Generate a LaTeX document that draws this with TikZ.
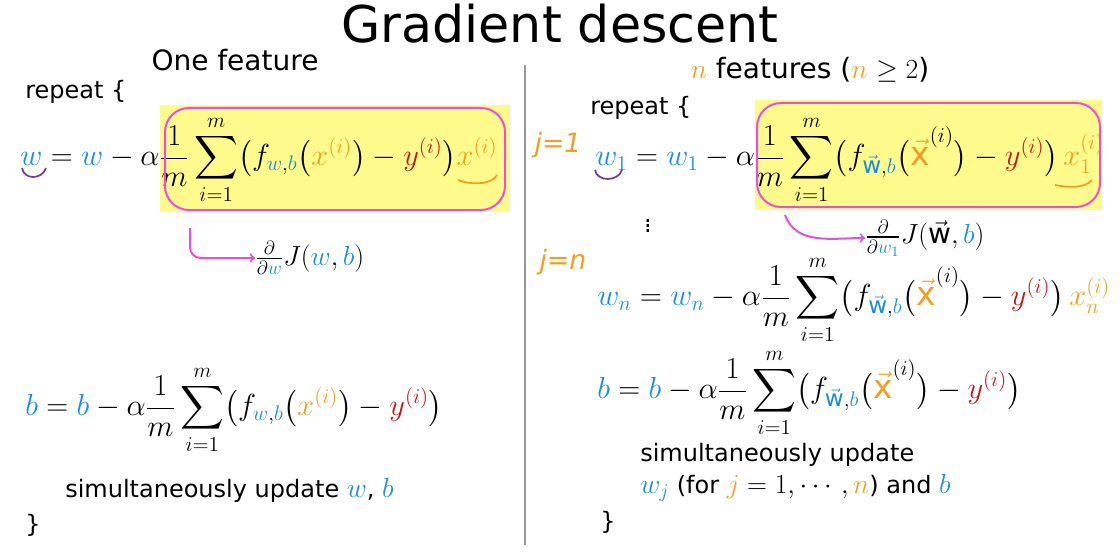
\documentclass[tikz,border=0pt]{standalone}
\usepackage{amsmath}
\usepackage{graphicx}
\usepackage{fontspec}
\setmainfont{DejaVu Sans}
\definecolor{wb}{RGB}{25,140,230}
\definecolor{xo}{RGB}{240,160,30}
\definecolor{yr}{RGB}{190,25,25}
\definecolor{hl}{RGB}{255,250,140}
\definecolor{pk}{RGB}{230,80,220}
\definecolor{ln}{RGB}{150,150,150}
\definecolor{ul}{RGB}{110,60,150}
\newcommand{\Bw}[1]{\textcolor{wb}{#1}}
\newcommand{\Ox}[1]{\textcolor{xo}{#1}}
\newcommand{\Ry}[1]{\textcolor{yr}{#1}}
\newcommand{\vx}{\Ox{\vec{\mathrm{x}}}}
\newcommand{\vw}{\vec{\mathrm{w}}}
\newcommand{\M}[1]{{\fontsize{21}{24}\selectfont$#1$}}
\newcommand{\SE}[1]{\scalebox{1.1}{$\displaystyle #1$}}
\begin{document}
\begin{tikzpicture}[x=0.75pt,y=-0.75pt,
  txt/.style={inner sep=0pt,font=\fontsize{18}{21}\selectfont},
  eq/.style={inner sep=0pt,anchor=west,font=\fontsize{22.5}{26}\selectfont},
  hand/.style={pk,line width=1.5pt},
  handj/.style={inner sep=0pt,text=xo,font=\fontsize{20}{24}\selectfont\itshape}]
\useasboundingbox (0,0) rectangle (1120,556);
\fill[hl] (160,105) rectangle (510,212);
\fill[hl] (755,100) rectangle (1102,210);
\node[txt,font=\fontsize{38}{42}\selectfont] (title) at (560,24) {Gradient descent};
\node[txt,font=\fontsize{21}{24}\selectfont] (one) at (235,60) {One feature};
\node[txt,anchor=west] (rep1) at (25,92) {repeat \{};
\node[eq] (eqw) at (20,160) {\SE{\Bw{w}=\Bw{w}-\alpha\frac{1}{m}\sum_{i=1}^{m}\bigl(f_{\Bw{w},\Bw{b}}\bigl(\Ox{x^{(i)}}\bigr)-\Ry{y^{(i)}}\bigr)\Ox{x^{(i)}}}};
\draw[hand,rounded corners=18pt] (165,108) rectangle (505,210);
\draw[ul,line width=1.3pt] (22,168) .. controls (24,180) and (42,180) .. (46,168);
\draw[xo,line width=1.3pt] (458,180) .. controls (470,185) and (492,185) .. (497,175);
\coordinate (a1) at (190,228);
\node[eq,font=\fontsize{21}{24}\selectfont] (d1) at (255,258) {$\frac{\partial}{\partial \Bw{w}}J(\Bw{w},\Bw{b})$};
\draw[hand,->,rounded corners=8pt] (a1) |- (d1.west);
\node[eq] (eqb) at (25,410) {\SE{\Bw{b}=\Bw{b}-\alpha\frac{1}{m}\sum_{i=1}^{m}\bigl(f_{\Bw{w},\Bw{b}}\bigl(\Ox{x^{(i)}}\bigr)-\Ry{y^{(i)}}\bigr)}};
\node[txt,anchor=west] (sim1) at (65,490) {simultaneously update \M{\Bw{w}}, \M{\Bw{b}}};
\node[txt,anchor=west] (cl1) at (25,525) {\}};
\draw[ln,line width=1.5pt] (525,65) -- (525,545);
\node[txt,font=\fontsize{21}{24}\selectfont] (nf) at (810,70) {\Ox{$n$} features (\Ox{$n$} $\geq 2$)};
\node[txt,anchor=west] (rep2) at (590,108) {repeat \{};
\node[handj] (j1) at (558,145) {j=1};
\node[eq] (eqw1) at (595,160) {\SE{\Bw{w_1}=\Bw{w_1}-\alpha\frac{1}{m}\sum_{i=1}^{m}\bigl(f_{\Bw{\vw},\Bw{b}}\bigl(\vx^{(i)}\bigr)-\Ry{y^{(i)}}\bigr)\,\Ox{x_1^{(i)}}}};
\draw[hand,rounded corners=18pt] (757,103) rectangle (1100,207);
\draw[ul,line width=1.3pt] (595,170) .. controls (597,182) and (618,182) .. (622,170);
\draw[xo,line width=1.3pt] (1055,185) .. controls (1070,188) and (1085,188) .. (1092,180);
\node[txt] (dots) at (648,222) {$\vdots$};
\coordinate (a2) at (785,215);
\node[eq,font=\fontsize{21}{24}\selectfont] (d2) at (865,238) {$\frac{\partial}{\partial \Bw{w_1}}J(\vw,\Bw{b})$};
\draw[hand,->] (a2) to[out=-70,in=180] (d2.west);
\node[handj] (jn) at (563,262) {j=n};
\node[eq] (eqwn) at (597,300) {\SE{\Bw{w_n}=\Bw{w_n}-\alpha\frac{1}{m}\sum_{i=1}^{m}\bigl(f_{\Bw{\vw},\Bw{b}}\bigl(\vx^{(i)}\bigr)-\Ry{y^{(i)}}\bigr)\,\Ox{x_n^{(i)}}}};
\node[eq] (eqb2) at (597,393) {\SE{\Bw{b}=\Bw{b}-\alpha\frac{1}{m}\sum_{i=1}^{m}\bigl(f_{\Bw{\vw},\Bw{b}}\bigl(\vx^{(i)}\bigr)-\Ry{y^{(i)}}\bigr)}};
\node[txt,anchor=west] (sim2) at (640,455) {simultaneously update};
\node[txt,anchor=west] (sim3) at (640,488) {\M{\Bw{w_j}} (for \M{\Ox{j}=1,\cdots,\Ox{n}}) and \M{\Bw{b}}};
\node[txt,anchor=west] (cl2) at (600,522) {\}};
\end{tikzpicture}
\end{document}
